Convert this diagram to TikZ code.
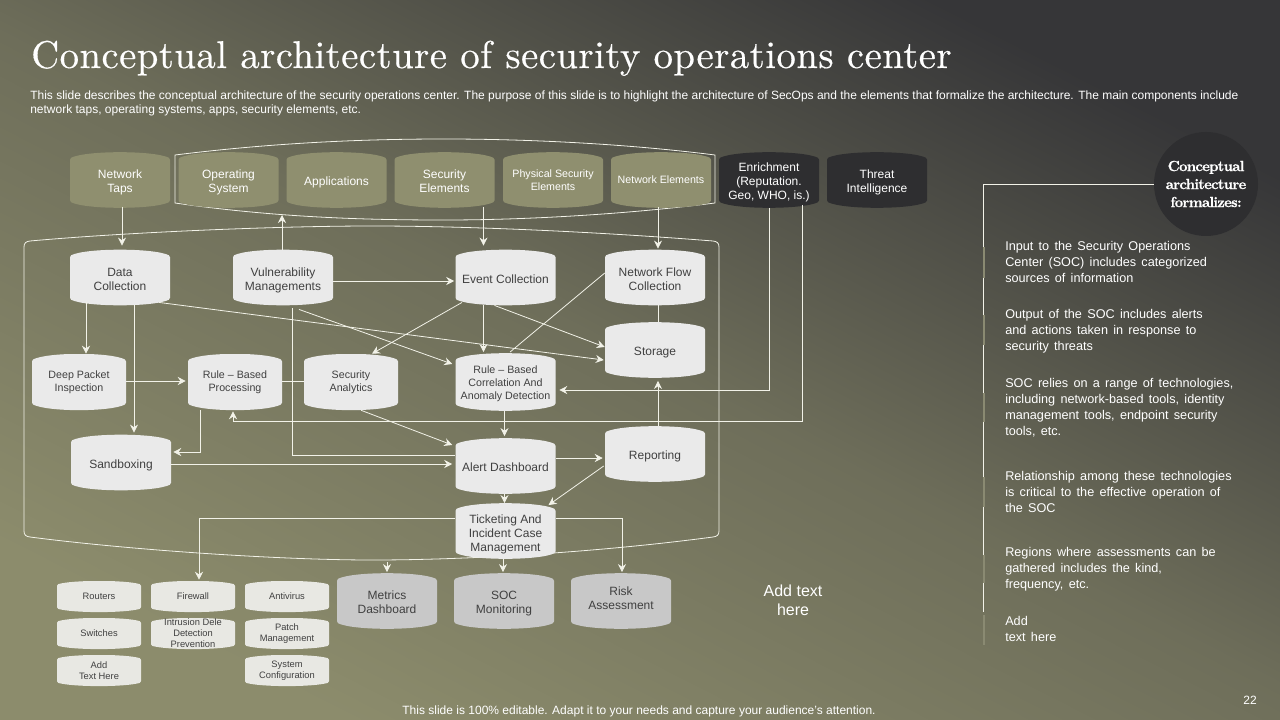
\documentclass[tikz,border=0pt]{standalone}
\usepackage{fontspec}
\setsansfont{Liberation Sans}
\newfontfamily\notefont{Liberation Sans}[WordSpace=1.5]
\newfontfamily\titlefont{lmroman10-regular}[Extension=.otf, FakeBold=0.4, LetterSpace=1.3]
\newfontfamily\circfont{lmroman10-bold}[Extension=.otf, FakeBold=0.5, LetterSpace=-5]
\usepackage{tikz}
\usetikzlibrary{arrows.meta,calc}

\definecolor{khaki}{HTML}{8F8F6F}
\definecolor{charcoal}{HTML}{2E2E30}
\definecolor{pale}{HTML}{EAEAEA}
\definecolor{steel}{HTML}{C8C8C8}
\definecolor{chalk}{HTML}{E8E8E3}
\definecolor{ink}{HTML}{404040}
\definecolor{wire}{HTML}{F2F2E8}
\definecolor{railolive}{HTML}{8A8A72}
\definecolor{bgA}{HTML}{8C8C6C}
\definecolor{bgB}{HTML}{6E6E5A}
\definecolor{bgC}{HTML}{363638}

\pgfdeclareverticalshading{slideback}{100bp}{color(0bp)=(bgA); color(25bp)=(bgA); color(50bp)=(bgB); color(75bp)=(bgC); color(100bp)=(bgC)}

\tikzset{
  barrel/.style 2 args={rectangle, inner sep=0pt, align=center,
    path picture={
      \coordinate (nw) at (path picture bounding box.north west);
      \coordinate (ne) at (path picture bounding box.north east);
      \coordinate (sw) at (path picture bounding box.south west);
      \coordinate (se) at (path picture bounding box.south east);
      \fill[#1, rounded corners=1pt] ([yshift=-#2]nw)
        .. controls ([xshift=12pt,yshift=#2/3]nw) and ([xshift=-12pt,yshift=#2/3]ne) .. ([yshift=-#2]ne)
        -- ([yshift=#2]se)
        .. controls ([xshift=-12pt,yshift=-#2/3]se) and ([xshift=12pt,yshift=-#2/3]sw) .. ([yshift=#2]sw)
        -- cycle;
    }},
  lift/.style={text depth=0pt, text height=#1},
  one/.style={lift=9pt},
  two/.style={lift=19.5pt},
  three/.style={lift=30pt},
  big/.style={minimum width=75pt, minimum height=41.5pt, font=\sffamily\fontsize{9}{10.5}\selectfont},
  mid/.style={minimum width=70.5pt, minimum height=42pt, font=\sffamily\fontsize{8}{9.75}\selectfont},
  tiny/.style={barrel={chalk}{2.6pt}, minimum width=63pt, minimum height=23.25pt, text=ink, font=\sffamily\fontsize{7}{8.25}\selectfont},
  source/.style={big, barrel={khaki}{4.5pt}, text=white},
  sourcelong/.style={source, font=\sffamily\fontsize{8}{9.75}\selectfont},
  feed/.style={big, barrel={charcoal}{4.5pt}, text=white},
  stage/.style={big, barrel={pale}{4.5pt}, text=ink},
  check/.style={mid, barrel={pale}{4.5pt}, text=ink},
  sink/.style={big, barrel={steel}{4.5pt}, text=ink},
  outline/.style={draw=wire, line width=0.6pt},
  link/.style={draw=wire, line width=0.6pt},
  flow/.style={link, -{Stealth[length=6pt,width=6pt,inset=2pt]}},
  note/.style={anchor=west, inner sep=0pt, align=left, text=white, font=\notefont\fontsize{9.5}{12}\selectfont}
}

\begin{document}
\begin{tikzpicture}[x=0.75pt, y=-0.75pt]
      \useasboundingbox (0,0) rectangle (1280,720);

      % Background
      \path[shading=slideback, shading angle=-27] (0,0) rectangle (1280,720);

      % Heading
      \node[anchor=base west, inner sep=0pt, text=white, font=\titlefont\fontsize{29}{33}\selectfont] (title) at (31,68) {Conceptual architecture of security operations center};
      \node[anchor=west, inner sep=0pt, align=left, text=white, font=\sffamily\fontsize{9}{10.5}\selectfont] (intro) at (30,103) {This slide describes the conceptual architecture of the security operations center. The purpose of this slide is to highlight the architecture of SecOps and the elements that formalize the architecture. The main components include\\network taps, operating systems, apps, security elements, etc.};

      % Outlines
      \draw[outline] (175,155) .. controls (280,142) and (370,139) .. (445,139) .. controls (520,139) and (620,143) .. (715,155) -- (715,203) .. controls (620,215) and (520,220) .. (445,220) .. controls (370,220) and (280,218) .. (175,203) -- cycle;
      \draw[outline] (24,247) .. controls (24,243) and (26,241.5) .. (30,241) .. controls (130,232) and (280,226) .. (372,226) .. controls (470,226) and (600,232) .. (713,241) .. controls (717,241.5) and (719,243) .. (719,247) -- (719,531) .. controls (719,535) and (717,536.5) .. (713,537) .. controls (600,552) and (470,560) .. (372,560) .. controls (280,560) and (130,550) .. (30,537) .. controls (26,536.5) and (24,535) .. (24,531) -- cycle;

      % Sources
      \node[source, two] (taps) at (120,180) {Network\\Taps};
      \node[source, two] (os) at (228.5,180) {Operating\\System};
      \node[source, one] (apps) at (336.5,180) {Applications};
      \node[source, two] (secel) at (444.5,180) {Security\\Elements};
      \node[sourcelong] (phys) at (553,180) {Physical Security\\Elements};
      \node[sourcelong] (netel) at (661,180) {Network Elements};
      \node[feed, three] (enrich) at (769,180) {Enrichment\\(Reputation.\\Geo, WHO, is.)};
      \node[feed, two] (threat) at (877,180) {Threat\\Intelligence};

      % Stages
      \node[stage, two] (data) at (120,277.5) {Data\\Collection};
      \node[stage, two] (vuln) at (283,277.5) {Vulnerability\\Managements};
      \node[stage, one] (event) at (505.5,277.5) {Event Collection};
      \node[stage, two] (netflow) at (655,277.5) {Network Flow\\Collection};
      \node[stage, lift=7.5pt] (storage) at (655,350) {Storage};
      \node[check] (deep) at (79,382) {Deep Packet\\Inspection};
      \node[check] (rule) at (235,382) {Rule -- Based\\Processing};
      \node[check] (secan) at (351,382) {Security\\Analytics};
      \node[check, minimum width=75pt, minimum height=43pt, lift=25.5pt] (corr) at (505.5,382) {Rule -- Based\\Correlation And\\Anomaly Detection};
      \node[stage, one] (sand) at (121,462.5) {Sandboxing};
      \node[stage, lift=7.5pt] (alert) at (505.5,466) {Alert Dashboard};
      \node[stage, lift=7.5pt] (report) at (655,454) {Reporting};
      \node[stage, three] (tick) at (505.5,531) {Ticketing And\\Incident Case\\Management};

      % Outputs
      \node[sink, lift=18.5pt] (metrics) at (387,601) {Metrics\\Dashboard};
      \node[sink, lift=18.5pt] (soc) at (504,601) {SOC\\Monitoring};
      \node[sink, lift=12.5pt] (risk) at (621,601) {Risk\\Assessment};

      % Small boxes
      \node[tiny] (routers) at (99,596.5) {Routers};
      \node[tiny] (switches) at (99,633.5) {Switches};
      \node[tiny] (addbox) at (99,670.5) {Add\\Text Here};
      \node[tiny] (fire) at (193,596.5) {Firewall};
      \node[tiny] (intrusion) at (193,633.5) {Intrusion Dele\\Detection\\Prevention};
      \node[tiny] (antivirus) at (287,596.5) {Antivirus};
      \node[tiny] (patch) at (287,633.5) {Patch\\Management};
      \node[tiny] (sysconf) at (287,670.5) {System\\Configuration};

      % Free ends
      \coordinate (groupfoot) at (282,215);
      \coordinate (outerfoot) at (387,562);

      % Connectors
      \draw[flow] ($(taps.south)+(2,-1)$) -- ($(data.north)+(2,-4)$);
      \draw[flow] ($(vuln.north)+(-1,0)$) -- (groupfoot);
      \draw[flow] ($(vuln.east)+(0,3.5)$) -- ($(event.west)+(-1,3.5)$);
      \draw[flow] ($(secel.south)+(39,-1)$) -- ($(event.north)+(-22,-4)$);
      \draw[flow] ($(netel.south)+(-3,-1)$) -- ($(netflow.north)+(3,-1)$);
      \draw[flow] ($(data.south)+(-34,-3)$) -- ($(deep.north)+(7,0)$);
      \draw[flow] ($(data.south)+(14,0)$) -- ($(sand.north)+(13,-2)$);
      \draw[flow] ($(data.south)+(39,-3)$) -- ($(storage.west)+(-1,10)$);
      \draw[flow] ($(vuln.south)+(16,4)$) -- ($(corr.west)+(-3,-18)$);
      \draw[link] ($(vuln.south)+(9,3)$) |- ($(alert.west)+(0,-11)$);
      \draw[flow] ($(deep.east)+(0,-1)$) -- ($(rule.west)+(-2,-1)$);
      \draw[flow] ($(rule.south)+(-35,0)$) |- ($(sand.east)+(2,-10.5)$);
      \draw[link] ($(rule.east)+(0,-1)$) -- ($(secan.west)+(0,-1)$);
      \draw[flow] ($(secan.south)+(10,0)$) -- ($(alert.west)+(-3,-21)$);
      \draw[flow] ($(event.south)+(-43.5,-3)$) -- ($(secan.north)+(21,0)$);
      \draw[flow] ($(event.south)+(-22,0)$) -- ($(corr.north)+(-22,-1)$);
      \draw[flow] ($(event.south)+(-11,0)$) -- ($(storage.west)+(0,-3)$);
      \draw[link] ($(netflow.west)+(0,-4.5)$) -- ($(corr.north)+(4.5,-1)$);
      \draw[link] ($(netflow.south)+(3,0)$) -- ($(storage.north)+(3,0)$);
      \draw[flow] (enrich.south) |- ($(corr.east)+(3.5,8)$);
      \draw[flow] ($(enrich.south)+(33,-3)$) |- ($(rule.south)+(-2,11)$) -- ($(rule.south)+(-2,1)$);
      \draw[flow] ($(report.north)+(3,0)$) -- ($(storage.south)+(3,3)$);
      \draw[flow] ($(corr.south)+(-1,0)$) -- ($(alert.north)+(-1,-2)$);
      \draw[flow] ($(alert.east)+(0,-8)$) -- ($(report.west)+(-2,4)$);
      \draw[flow] ($(report.west)+(-1,12)$) -- ($(tick.north)+(43,2)$);
      \draw[flow] ($(alert.south)+(-1,0)$) -- ($(tick.north)+(-1,0)$);
      \draw[flow] ($(sand.east)+(0,1.5)$) -- ($(alert.west)+(-3,-2)$);
      \draw[flow] ($(tick.west)+(0,-13)$) -| ($(fire.north)+(6,-1)$);
      \draw[flow] ($(tick.east)+(0,-13)$) -| ($(risk.north)+(1,-1)$);
      \draw[flow] (outerfoot) -- ($(metrics.north)+(0,-1)$);
      \draw[flow] ($(tick.south)+(-2.5,0)$) -- ($(soc.north)+(-1,-1)$);

      % Side panel
      \node[circle, fill=charcoal, inner sep=0pt, minimum size=78pt, align=center, text=white, font=\circfont\fontsize{11}{13.5}\selectfont] (circ) at (1206,184) {Conceptual\\architecture\\formalizes:};
      \coordinate (railend) at (983,612);
      \draw[link] (circ.west) -| (railend);
      \foreach \ya/\yb in {247/278, 315/345, 393/422, 477/507, 555/583, 615/645}
        \draw[draw=railolive, line width=2pt] (984,\ya) -- (984,\yb);

      \node[note] (noteA) at (1005,262) {Input to the Security Operations\\Center (SOC) includes categorized\\sources of information};
      \node[note] (noteB) at (1005,331) {Output of the SOC includes alerts\\and actions taken in response to\\security threats};
      \node[note] (noteC) at (1005,408) {SOC relies on a range of technologies,\\including network-based tools, identity\\management tools, endpoint security\\tools, etc.};
      \node[note] (noteD) at (1005,492) {Relationship among these technologies\\is critical to the effective operation of\\the SOC};
      \node[note] (noteE) at (1005,569) {Regions where assessments can be\\gathered includes the kind,\\frequency, etc.};
      \node[note] (noteF) at (1005,629) {Add\\text here};

      % Loose text
      \node[align=center, inner sep=0pt, text=white, font=\sffamily\fontsize{12}{14.25}\selectfont] (addtext) at (793,600) {Add text\\here};
      \node[inner sep=0pt, text=white, font=\sffamily\fontsize{9}{10}\selectfont] (pageno) at (1250,700) {22};
      \node[inner sep=0pt, text=white, font=\sffamily\fontsize{9}{10}\selectfont] (footer) at (639,711) {This slide is 100\% editable. Adapt it to your needs and capture your audience's attention.};

    \end{tikzpicture}
\end{document}
